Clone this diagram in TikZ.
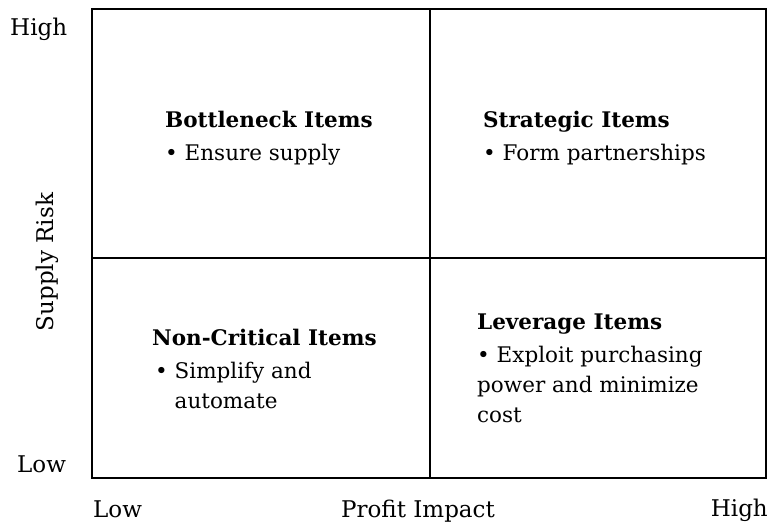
\documentclass[tikz,border=0pt]{standalone}
\usepackage{fontspec}
\setmainfont{DejaVu Serif}
\usepackage{tikz}
\usetikzlibrary{positioning}

\tikzset{
  axis/.style={anchor=base west, inner sep=0pt, font=\fontsize{23}{30}\selectfont},
  quad/.style={anchor=base west, inner sep=0pt, align=left, font=\fontsize{21.5}{30}\selectfont},
  grid/.style={line width=1.3pt},
}

\begin{document}
\begin{tikzpicture}[x=1pt, y=-1pt]
  \useasboundingbox (0,0) rectangle (770,525);
  % the matrix frame
  \coordinate (nw) at (92,9);
  \coordinate (se) at (766,478);
  \coordinate (midx) at (430,0);
  \coordinate (midy) at (0,258);
  \draw [grid, line width=1.8pt] (nw) rectangle (se);
  \draw [grid] (nw -| midx) -- (se -| midx);
  \draw [grid] (nw |- midy) -- (se |- midy);

  % axis labels
  \node [axis] (yhigh) at (10,35) {High};
  \node [axis] (ylow) at (17,472) {Low};
  \node [axis, rotate=90, anchor=base] (yaxis) at (53,262) {Supply Risk};
  \node [axis] (xlow) at (93,517) {Low};
  \node [axis, anchor=base] (xaxis) at (418,517) {Profit Impact};
  \node [axis, anchor=base east] (xhigh) at (768,516) {High};

  % the four quadrants (base = last line)
  \node [quad] (bottleneck) at (165,160)
    {\textbf{Bottleneck Items}\\[3pt]\textbullet\ Ensure supply};
  \node [quad] (strategic) at (483,160)
    {\textbf{Strategic Items}\\[3pt]\textbullet\ Form partnerships};
  \node [quad] (noncritical) at (152,408)
    {\textbf{Non-Critical Items}\\[3pt]\hspace{3pt}\textbullet\ Simplify and\\\hspace{3pt}\phantom{\textbullet\ }automate};
  \node [quad] (leverage) at (477,422)
    {\textbf{Leverage Items}\\[3pt]\textbullet\ Exploit purchasing\\power and minimize\\cost};
\end{tikzpicture}
\end{document}
